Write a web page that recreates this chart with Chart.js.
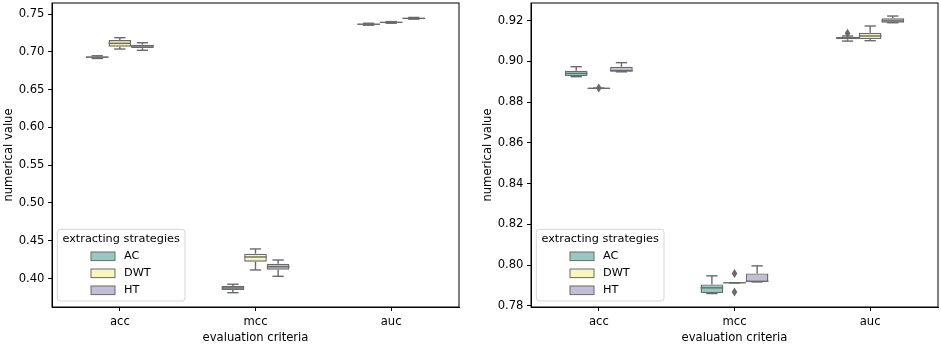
<!DOCTYPE html>
<html>
<head>
<meta charset="utf-8">
<script src="https://cdn.jsdelivr.net/npm/chart.js@4.4.0/dist/chart.umd.min.js"></script>
<style>
  body { margin: 0; background: #fff; width: 941px; height: 345px; overflow: hidden; position: relative; }
  canvas { position: absolute; top: 0; }
</style>
</head>
<body>
<canvas id="leftChart" width="470" height="345" style="left:0px"></canvas>
<canvas id="rightChart" width="462" height="345" style="left:479px"></canvas>
<script>
const categories = ['acc', 'mcc', 'auc'];
const strategies = ['AC', 'DWT', 'HT'];
const strategyColors = ['#96cac1', '#f6f6bd', '#c1bed6'];

// box stats per category: [min, q1, median, q3, max]
const leftAC  = [[0.6912, 0.6922, 0.6930, 0.6938, 0.6948], [0.3813, 0.3849, 0.3876, 0.3902, 0.3925], [0.7352, 0.7360, 0.7365, 0.7372, 0.7378]];
const leftDWT = [[0.7037, 0.7067, 0.7112, 0.7156, 0.7187], [0.4114, 0.4224, 0.4286, 0.4329, 0.4392], [0.7378, 0.7384, 0.7390, 0.7395, 0.7400]];
const leftHT  = [[0.7020, 0.7050, 0.7077, 0.7094, 0.7120], [0.4030, 0.4118, 0.4157, 0.4197, 0.4246], [0.7432, 0.7438, 0.7443, 0.7449, 0.7455]];

const rightAC  = [[0.8925, 0.8928, 0.8941, 0.8954, 0.8974], [0.7860, 0.7863, 0.7888, 0.7905, 0.7947], [0.9100, 0.9109, 0.9115, 0.9121, 0.9125]];
const rightDWT = [[0.8868, 0.8868, 0.8868, 0.8868, 0.8868], [0.7913, 0.7913, 0.7913, 0.7913, 0.7913], [0.9102, 0.9110, 0.9125, 0.9141, 0.9174]];
const rightHT  = [[0.8949, 0.8949, 0.8955, 0.8974, 0.8994], [0.7917, 0.7917, 0.7920, 0.7959, 0.7996], [0.9190, 0.9190, 0.9199, 0.9212, 0.9223]];

// outliers per category
const leftFliers  = [[[], [], []], [[], [], []], [[], [], []]];
const rightFliersAC  = [[], [], [0.9138]];
const rightFliersDWT = [[0.8869], [0.7959, 0.7868], []];
const rightFliersHT  = [[], [], []];

const leftTicks  = [0.40, 0.45, 0.50, 0.55, 0.60, 0.65, 0.70, 0.75];
const rightTicks = [0.78, 0.80, 0.82, 0.84, 0.86, 0.88, 0.90, 0.92];

const lineGray = '#6a6a6a';
const fontFamily = "'DejaVu Sans', sans-serif";
const font = { family: fontFamily, size: 11.6 };

// whiskers, medians, fliers and the axes frame
const boxPlugin = {
    id: 'boxExtras',
    afterDatasetsDraw(chart) {
        const ctx = chart.ctx;
        const py = v => chart.scales.y.getPixelForValue(v);
        const line = (x1, y1, x2, y2) => {
            ctx.beginPath();
            ctx.moveTo(x1, y1);
            ctx.lineTo(x2, y2);
            ctx.stroke();
        };
        ctx.save();
        ctx.strokeStyle = lineGray;
        ctx.fillStyle = lineGray;
        ctx.lineWidth = 1.4;
        chart.data.datasets.forEach((ds, i) => {
            chart.getDatasetMeta(i).data.forEach((bar, j) => {
                const [mn, q1, med, q3, mx] = ds.stats[j];
                const x = bar.x, half = bar.width / 2, cap = bar.width / 4;
                line(x, py(q3), x, py(mx));
                line(x - cap, py(mx), x + cap, py(mx));
                line(x, py(q1), x, py(mn));
                line(x - cap, py(mn), x + cap, py(mn));
                line(x - half, py(med), x + half, py(med));
                (ds.fliers[j] || []).forEach(v => {
                    const fy = py(v);
                    ctx.beginPath();
                    ctx.moveTo(x, fy - 4.5);
                    ctx.lineTo(x + 2.8, fy);
                    ctx.lineTo(x, fy + 4.5);
                    ctx.lineTo(x - 2.8, fy);
                    ctx.closePath();
                    ctx.fill();
                });
            });
        });
        const a = chart.chartArea;
        ctx.strokeStyle = '#000';
        ctx.lineWidth = 1;
        ctx.strokeRect(a.left, a.top, a.right - a.left, a.bottom - a.top);
        ctx.restore();
    }
};

// legend in the lower left corner of the plot
const legendPlugin = {
    id: 'cornerLegend',
    afterDraw(chart) {
        const ctx = chart.ctx;
        const a = chart.chartArea;
        const left = a.left + 5.3, w = 127.7, h = 71.7;
        const top = a.bottom - 6 - h;
        ctx.save();
        ctx.beginPath();
        ctx.roundRect(left, top, w, h, 3);
        ctx.fillStyle = 'rgba(255,255,255,0.8)';
        ctx.fill();
        ctx.strokeStyle = '#d5d5d5';
        ctx.lineWidth = 1;
        ctx.stroke();
        ctx.font = `11.3px ${fontFamily}`;
        ctx.fillStyle = '#000';
        ctx.textBaseline = 'middle';
        ctx.textAlign = 'center';
        ctx.fillText('extracting strategies', left + w / 2, top + 10);
        ctx.textAlign = 'left';
        strategies.forEach((s, i) => {
            const cy = top + 27 + i * 17;
            ctx.fillStyle = strategyColors[i];
            ctx.fillRect(left + 33.7, cy - 4.3, 24, 8.6);
            ctx.strokeStyle = lineGray;
            ctx.strokeRect(left + 33.7, cy - 4.3, 24, 8.6);
            ctx.fillStyle = '#000';
            ctx.fillText(s, left + 66.7, cy);
        });
        ctx.restore();
    }
};

function makeChart(id, sets, fliers, yMin, yMax, yTicks, padRight) {
    new Chart(document.getElementById(id), {
        type: 'bar',
        data: {
            labels: categories,
            datasets: strategies.map((s, i) => ({
                label: s,
                data: sets[i].map(v => [v[1], v[3]]),
                stats: sets[i],
                fliers: fliers[i],
                backgroundColor: strategyColors[i],
                borderColor: lineGray,
                borderWidth: 1.4,
                borderSkipped: false,
                categoryPercentage: 0.5,
                barPercentage: 1
            }))
        },
        options: {
            responsive: false,
            animation: false,
            layout: { padding: { top: 3, right: padRight, left: 0, bottom: 0 } },
            plugins: { legend: { display: false }, tooltip: { enabled: false } },
            scales: {
                x: {
                    grid: { display: true, offset: false, drawOnChartArea: false, tickLength: 4, color: '#000' },
                    border: { color: '#000' },
                    ticks: { font: font, color: '#000', padding: 4.5 },
                    title: { display: true, text: 'evaluation criteria', font: font, color: '#000', padding: { top: 0, bottom: 0 } },
                    afterFit: s => { s.height = 38; s.paddingLeft = 0; s.paddingRight = 0; }
                },
                y: {
                    min: yMin,
                    max: yMax,
                    afterBuildTicks: s => { s.ticks = yTicks.map(v => ({ value: v })); },
                    grid: { display: true, drawOnChartArea: false, tickLength: 4, color: '#000' },
                    border: { color: '#000' },
                    ticks: { font: font, color: '#000', padding: 3.5, callback: v => Number(v).toFixed(2) },
                    title: { display: true, text: 'numerical value', font: font, color: '#000', padding: { top: 2, bottom: 2 } },
                    afterFit: s => { s.width = 52; s.paddingTop = 0; s.paddingBottom = 0; }
                }
            }
        },
        plugins: [boxPlugin, legendPlugin]
    });
}

makeChart('leftChart', [leftAC, leftDWT, leftHT], leftFliers, 0.3624, 0.7646, leftTicks, 11);
makeChart('rightChart', [rightAC, rightDWT, rightHT], [rightFliersAC, rightFliersDWT, rightFliersHT], 0.7794, 0.9287, rightTicks, 3);
</script>
</body>
</html>
